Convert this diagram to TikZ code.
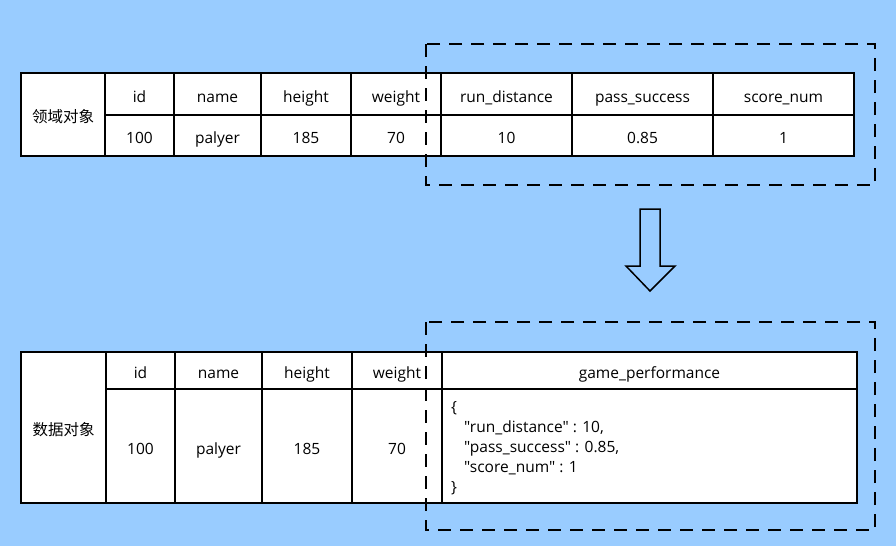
\documentclass[tikz,border=0pt]{standalone}
\usepackage{fontspec}
\setmainfont{Open Sans}[Ligatures=TeXOff]
\newfontfamily\cjk{Noto Sans CJK SC}
\usetikzlibrary{positioning}
\definecolor{skyBg}{RGB}{153,204,255}
\tikzset{
  cell/.style={rectangle, draw=black, fill=white, line width=1.5pt, inner sep=0pt,
               text height=16pt, text depth=0pt, font=\fontsize{15.5}{18}\selectfont},
  labelCell/.style={cell, font=\cjk\fontsize{15.5}{18}\selectfont},
  groupBox/.style={draw=black, line width=2pt, dash pattern=on 13pt off 9pt},
  bigArrow/.style={draw=black, line width=1.5pt, fill=skyBg, line join=miter}
}

\begin{document}
\begin{tikzpicture}[x=1pt,y=-1pt]

% Background
\fill[skyBg] (0,0) rectangle (896,546);
\useasboundingbox (0,0) rectangle (896,546);

% Top table
\node[labelCell, minimum width=84pt, minimum height=83pt] (topLabel) at (63,114.5) {领域对象};
\foreach \key/\xa/\xb/\head/\val in {id/105/174/id/100, name/174/261/name/palyer,
    height/261/351/height/185, weight/351/441/weight/70,
    run/441/572/run\_distance/10, pass/572/713/pass\_success/0.85,
    score/713/854/score\_num/1} {
  \node[cell, minimum width={(\xb-\xa)*1pt}, minimum height=42pt] (top\key Head) at ({(\xa+\xb)/2},94) {\head};
  \node[cell, minimum width={(\xb-\xa)*1pt}, minimum height=41pt] (top\key Val) at ({(\xa+\xb)/2},135.5) {\val};
}

% Bottom table
\node[labelCell, minimum width=85pt, minimum height=151pt] (botLabel) at (63.5,427.5) {数据对象};
\foreach \key/\xa/\xb/\head/\val in {id/106/175/id/100, name/175/262/name/palyer,
    height/262/352/height/185, weight/352/442/weight/70} {
  \node[cell, minimum width={(\xb-\xa)*1pt}, minimum height=37pt] (bot\key Head) at ({(\xa+\xb)/2},370.5) {\head};
  \node[cell, minimum width={(\xb-\xa)*1pt}, minimum height=114pt] (bot\key Val) at ({(\xa+\xb)/2},446) {\val};
}
\node[cell, minimum width=415pt, minimum height=37pt] (perfHead) at (649.5,370.5) {game\_performance};
\node[cell, minimum width=415pt, minimum height=114pt] (perfVal) at (649.5,446) {};
\node[anchor=west, align=left, inner sep=0pt, font=\fontsize{15.5}{20}\selectfont] (perfJson) at (451,448)
  {\{\\\hspace*{13pt}"run\_distance" : 10,\\\hspace*{13pt}"pass\_success" : 0.85,\\\hspace*{13pt}"score\_num" : 1\\\}};

% Dashed groups
\draw[groupBox] (426,44) rectangle (875,185);
\draw[groupBox] (426,322) rectangle (875,530);

% Down arrow
\draw[bigArrow] (640,209) -- (660,209) -- (660,266) -- (675,266) -- (650,291)
  -- (626,266) -- (640,266) -- cycle;

\end{tikzpicture}
\end{document}
